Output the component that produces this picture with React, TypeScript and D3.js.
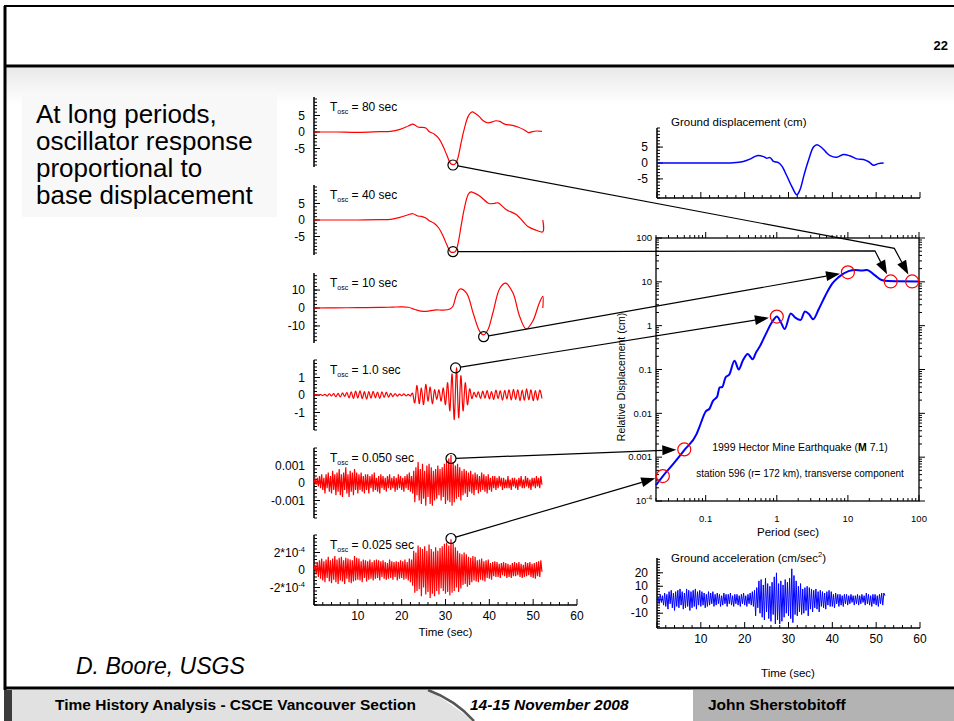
import React from "react";
import * as d3 from "d3";

const FONT = "'Liberation Sans', Arial, Helvetica, sans-serif";

// oscillator periods down the left column (sec)
const oscNames = ["80", "40", "10", "1.0", "0.050", "0.025"];

// long-period oscillator responses, [time (sec), displacement (cm)]
const osc80 = [
  [0, 0], [5, 0], [10, -0.1], [15, 0.1], [17.5, 0.2], [19.6, 0.8], [21.5, 1.8], [22.6, 2.4], [23.7, 1.5],
  [24.5, 1.4], [25.5, 1.2], [26.3, 0.1], [27.4, -0.6], [28.5, -2], [29.5, -4.5], [30.3, -7], [31.2, -9.6],
  [31.8, -9.9], [32.3, -9.6], [32.8, -8], [33.6, -3], [34.3, 1], [35.2, 4.8], [36.1, 6.1], [36.8, 5.6],
  [37.6, 4.8], [38.6, 3.4], [39.6, 2.8], [40.5, 3.0], [41.5, 3.4], [42.4, 3.2], [43.5, 2.4], [45.3, 2.0],
  [46.5, 1.5], [48, 0.6], [49, -0.2], [49.8, 0.1], [50.8, 0.3], [52, 0.2],
];
const osc40 = [
  [0, 0], [5, 0], [10, 0], [15, 0.1], [17.5, 0.2], [19.6, 0.8], [21.5, 1.6], [22.6, 1.9], [23.7, 1.2],
  [24.5, 1.1], [25.5, 0.6], [26.3, -0.2], [27.4, -1], [28.5, -2.5], [29.5, -5], [30.3, -7.5], [31.2, -9.7],
  [31.8, -9.8], [32.3, -9.5], [32.8, -7.5], [33.6, -1.5], [34.3, 3.5], [35.2, 7.8], [35.8, 8.5], [36.5, 8.2],
  [37.8, 7.3], [39.9, 5], [41, 5], [42, 5.2], [43.9, 3.1], [46.2, 1.6], [48.8, -2], [50.7, -3.1],
  [52.2, -3.6], [52.2, 0],
];
const osc10 = [
  [0, 0], [5, 0.1], [10, 0.2], [15, 0.3], [18, 0.5], [20, 0.6], [21.5, 0.4], [22.6, -0.5], [23.5, -1.2],
  [24.9, -1.9], [26.4, -1.6], [27.9, -1.0], [29.4, -1.2], [31, -0.6], [31.7, 1], [32.5, 7.4], [33.3, 10.6],
  [34.8, 8.3], [36.3, -2.8], [37.8, -13], [38.7, -15], [39.7, -12], [40.8, -2.8], [42.4, 11], [43.7, 13.9],
  [45.4, 8.3], [46.9, -4.6], [48.4, -11.7], [49.9, -7.4], [51.4, 2.8], [52.2, 6.5], [52.2, 0],
];

// short-period oscillator responses, one sample per step (sec)
const osc1Step = 0.5;
const osc1 = [
  0, 0.02, -0.02, 0.03, -0.03, 0.04, -0.06, 0.07, -0.05, 0.08, -0.1, 0.09, -0.11, 0.12, -0.08, 0.14,
  -0.16, 0.18, -0.2, 0.22, -0.17, 0.24, -0.2, 0.19, -0.23, 0.2, -0.18, 0.21, -0.16, 0.17, -0.2, 0.18,
  -0.14, 0.16, -0.12, 0.1, -0.09, 0.08, -0.06, 0.05, -0.04, 0.06, -0.05, 0.04, -0.06, 0.1, -0.45, 0.55,
  -0.5, 0.4, -0.55, 0.6, -0.35, 0.45, -0.5, 0.3, -0.25, 0.3, -0.35, 0.4, -0.55, 0.7, -0.9, 1.2,
  -1.4, 1.55, -1.3, 1.1, -0.9, 0.7, -0.55, 0.35, -0.2, 0.15, -0.12, 0.18, -0.2, 0.22, -0.18, 0.25,
  -0.22, 0.2, -0.25, 0.28, -0.2, 0.24, -0.3, 0.26, -0.22, 0.3, -0.28, 0.32, -0.25, 0.3, -0.33, 0.28,
  -0.3, 0.35, -0.27, 0.3, -0.32, 0.25, -0.3, 0.28, -0.2,
];
const fastStep = 0.25;
// T = 0.050 sec, in units of 1e-4 cm
const osc005 = [
  0, 2, -1, 3, -2, 4, -3, 5, -4, 3, -6, 5, -3, 6, -5, 4,
  -6, 7, -4, 5, -7, 6, -5, 8, -7, 5, -8, 6, -4, 9, -6, 5,
  -8, 7, -5, 6, -7, 8, -4, 6, -6, 5, -4, 6, -5, 4, -6, 5,
  -4, 5, -6, 4, -3, 5, -5, 6, -4, 3, -5, 4, -6, 5, -3, 4,
  -4, 3, -5, 4, -3, 5, -4, 3, -3, 4, -5, 3, -4, 5, -3, 4,
  -4, 3, -5, 4, -3, 5, -4, 6, -5, 4, -6, 7, -11, 9, -7, 12,
  -10, 8, -12, 11, -9, 7, -13, 10, -8, 11, -12, 9, -13, 7, -10, 8,
  -9, 10, -7, 8, -10, 9, -8, 11, -12, 13, -10, 14, -11, 16, -13, 12,
  -11, 10, -9, 11, -8, 9, -10, 7, -7, 8, -6, 7, -8, 6, -5, 7,
  -6, 5, -7, 6, -4, 5, -6, 4, -5, 6, -4, 5, -5, 4, -6, 5,
  -4, 3, -5, 4, -3, 4, -4, 3, -3, 4, -2, 3, -4, 3, -3, 2,
  -3, 4, -3, 2, -4, 3, -2, 3, -3, 2, -4, 3, -2, 4, -3, 2,
  -3, 4, -2, 3, -3, 2, -4, 3, -2, 3, -3, 4, -2, 3, -3, 4, -1,
].map((v) => v * 1e-4);
// T = 0.025 sec, in units of 1e-5 cm
const osc0025 = [
  0, 6, -5, 9, -8, 11, -10, 13, -12, 10, -14, 12, -9, 15, -13, 11,
  -15, 13, -11, 16, -14, 12, -16, 14, -12, 15, -13, 11, -16, 14, -10, 13,
  -14, 12, -15, 11, -13, 16, -12, 14, -11, 13, -12, 10, -14, 12, -9, 11,
  -13, 10, -11, 12, -10, 9, -12, 11, -10, 12, -9, 11, -12, 10, -8, 11,
  -10, 9, -11, 8, -10, 12, -9, 10, -11, 9, -8, 10, -12, 9, -10, 11,
  -9, 10, -11, 12, -10, 9, -12, 13, -14, 12, -18, 22, -26, 20, -24, 28,
  -22, 26, -30, 24, -20, 27, -28, 22, -25, 29, -32, 24, -27, 21, -30, 26,
  -24, 22, -28, 25, -21, 27, -24, 30, -27, 31, -25, 28, -29, 35, -26, 30,
  -24, 26, -20, 22, -25, 19, -21, 18, -17, 20, -16, 18, -19, 15, -17, 14,
  -14, 16, -12, 15, -13, 11, -14, 12, -11, 13, -12, 10, -13, 11, -9, 12,
  -10, 8, -11, 9, -7, 10, -8, 9, -8, 7, -9, 8, -6, 9, -7, 8,
  -9, 7, -8, 6, -9, 8, -7, 9, -7, 8, -6, 9, -8, 7, -9, 6,
  -8, 9, -7, 8, -6, 9, -8, 7, -9, 8, -10, 9, -7, 10, -8, 11, -2,
].map((v) => v * 1e-5);

// ground motion
const groundDisp = [
  [0, 0], [10, 0], [17.4, 0.1], [19.7, 0.5], [21.2, 1.2], [22.8, 2.3], [24.3, 2.0], [25, 1.5], [25.8, 1.7],
  [26.6, 0.5], [27.7, 0.1], [28.5, -1], [29.6, -4], [30.8, -7.5], [31.9, -10], [32.6, -8.5], [33.6, -3.5],
  [34.6, 1], [35.7, 5], [36.5, 5.7], [37.6, 4.8], [38.5, 3.5], [39.5, 2.3], [41, 1.8], [42.5, 2.7],
  [44.1, 2.2], [45.6, 1.3], [47.1, 1.1], [48.3, 0.4], [49.4, -0.7], [50.5, -0.2], [51.7, 0],
];
const groundAcc = [
  0, 2, -3, 4, -2, 3, -4, 5, -5, 4, -7, 6, -3, 7, -6, 5,
  -8, 6, -5, 7, -6, 8, -4, 6, -7, 5, -6, 8, -5, 7, -8, 6,
  -6, 7, -5, 8, -7, 6, -4, 7, -5, 6, -4, 5, -6, 4, -5, 6,
  -4, 5, -3, 6, -5, 4, -4, 5, -3, 4, -5, 3, -4, 5, -3, 4,
  -5, 4, -3, 5, -4, 3, -5, 4, -3, 4, -4, 3, -5, 4, -3, 5,
  -4, 3, -5, 4, -3, 5, -4, 6, -5, 7, -12, 9, -6, 14, -10, 15,
  -13, 11, -15, 16, -9, 12, -14, 10, -16, 13, -11, 17, -18, 20, -15, 12,
  -18, 14, -16, 11, -13, 15, -10, 13, -12, 16, -14, 23, -17, 18, -11, 14,
  -12, 10, -9, 12, -11, 8, -10, 9, -8, 10, -12, 9, -7, 8, -9, 7,
  -6, 8, -7, 6, -9, 7, -5, 6, -6, 5, -7, 6, -4, 7, -5, 6,
  -5, 4, -6, 5, -3, 4, -5, 4, -4, 3, -5, 4, -3, 4, -4, 3,
  -3, 4, -2, 3, -4, 3, -3, 4, -4, 3, -3, 4, -2, 3, -4, 5,
  -3, 4, -4, 3, -5, 4, -3, 4, -4, 3, -5, 4, -3, 5, -4, 5, 3,
];

// displacement response spectrum
const specPeriod = [
  0.02, 0.025, 0.035, 0.051, 0.074, 0.082, 0.1, 0.114, 0.126, 0.138, 0.145, 0.157, 0.171, 0.19, 0.216,
  0.254, 0.292, 0.332, 0.39, 0.458, 0.51, 0.567, 0.7, 0.825, 0.918, 1.0, 1.14, 1.29, 1.57, 1.84, 2.16,
  2.49, 2.83, 3.25, 3.9, 4.83, 5.98, 7.4, 10.2, 12.6, 15.7, 18.5, 24.1, 29.8, 36.9, 50.8, 100,
];
const specDisp = [
  2.3e-4, 3.7e-4, 7e-4, 1.5e-3, 3.3e-3, 5e-3, 0.011, 0.013, 0.019, 0.022, 0.024, 0.039, 0.04, 0.066, 0.078,
  0.158, 0.1, 0.158, 0.225, 0.172, 0.245, 0.32, 0.64, 1.09, 1.42, 1.61, 1.2, 0.84, 1.9, 1.5, 1.35,
  2.1, 1.85, 1.4, 2.4, 4.9, 9, 12.8, 17.5, 18.7, 18.2, 18.7, 14, 11, 10.4, 10.3, 10.2,
];

// circled peaks on each trace and the spectrum point they map to
const peakTime = [31.7, 31.7, 38.7, 32.3, 31.25, 31.25];
const peakValue = [-10, -9.6, -16, 1.55, 0.0014, 0.00036];
const peakPeriod = [80, 40, 10, 1, 0.05, 0.025];
const peakDisp = [10.2, 10.2, 16.5, 1.61, 1.5e-3, 3.7e-4];
const bendPeriod = [45, 24, null, null, null, null];
const bendDisp = [58, 51, null, null, null, null];

// axis ticks
const timeTicks = [10, 20, 30, 40, 50, 60];
const panelMax = [10.6, 10.6, 19.5, 2, 0.002, 4e-4];
const panelTicks = [[5, 0, -5], [5, 0, -5], [10, 0, -10], [1, 0, -1], [0.001, 0, -0.001], [2e-4, 0, -2e-4]];
const panelTickText = [["5", "0", "-5"], ["5", "0", "-5"], ["10", "0", "-10"], ["1", "0", "-1"], ["0.001", "0", "-0.001"], ["2*10", "0", "-2*10"]];
const dispTicks = [5, 0, -5];
const accTicks = [20, 10, 0, -10];
const specYTicks = [100, 10, 1, 0.1, 0.01, 0.001, 1e-4];
const specYText = ["100", "10", "1", "0.1", "0.01", "0.001", "10"];
const specXTicks = [0.1, 1, 10, 100];
const specXText = ["0.1", "1", "10", "100"];

const textLines = ["At long periods,", "oscillator response", "proportional to", "base displacement"];

function stepTicks(lo: number, hi: number, step: number) {
  const out: number[] = [];
  for (let k = Math.ceil(lo / step - 1e-9); k <= Math.floor(hi / step + 1e-9); k++) out.push(k * step);
  return out;
}

function logTicks(lo: number, hi: number) {
  const out: { v: number; major: boolean }[] = [];
  for (let e = Math.floor(Math.log10(lo)); e <= Math.ceil(Math.log10(hi)); e++) {
    for (let m = 1; m <= 9; m++) {
      const v = m * Math.pow(10, e);
      if (v >= lo * 0.999 && v <= hi * 1.001) out.push({ v, major: m === 1 });
    }
  }
  return out;
}

const sampled = (vals: number[], dt: number) => vals.map((v, i) => [i * dt, v]);

export default function App() {
  const W = 954, H = 721;
  const xT = d3.scaleLinear().domain([0, 60]).range([314, 577]);
  const xG = d3.scaleLinear().domain([0, 60]).range([657, 920]);
  const panelTop = [97, 185, 273, 360, 448, 535];
  const panelH = 70;
  const yPanel = panelMax.map((m, i) => d3.scaleLinear().domain([-m, m]).range([panelTop[i] + panelH, panelTop[i]]));
  const yDisp = d3.scaleLinear().domain([-11, 11]).range([198, 128]);
  const yAcc = d3.scaleLinear().domain([-21, 31]).range([628, 558]);
  const xP = d3.scaleLog().domain([0.02, 100]).range([656, 919]);
  const yP = d3.scaleLog().domain([1e-4, 100]).range([501, 238]);

  const traces = [osc80, osc40, osc10, sampled(osc1, osc1Step), sampled(osc005, fastStep), sampled(osc0025, fastStep)];
  const curves: any[] = [d3.curveCatmullRom, d3.curveCatmullRom, d3.curveCatmullRom, d3.curveCardinal, d3.curveLinear, d3.curveLinear];

  const dispLine = d3.line<any>().x((d) => xG(d[0])).y((d) => yDisp(d[1])).curve(d3.curveCatmullRom);
  const accLine = d3.line<any>().x((d) => xG(d[0])).y((d) => yAcc(d[1]));
  const specLine = d3.line<number>().x((_, i) => xP(specPeriod[i])).y((d) => yP(d)).curve(d3.curveMonotoneX);

  const trim = (a: number[], b: number[], d: number) => {
    const dx = b[0] - a[0], dy = b[1] - a[1], L = Math.hypot(dx, dy);
    return [a[0] + (dx / L) * d, a[1] + (dy / L) * d];
  };
  const arrows = peakPeriod.map((p, i) => {
    const pts: number[][] = [[xT(peakTime[i]), yPanel[i](peakValue[i])]];
    if (bendPeriod[i] != null) pts.push([xP(bendPeriod[i] as number), yP(bendDisp[i] as number)]);
    pts.push([xP(p), yP(peakDisp[i])]);
    pts[0] = trim(pts[0], pts[1], 5);
    const n = pts.length;
    const end = trim(pts[n - 1], pts[n - 2], 8);
    const prev = pts[n - 2];
    const ang = Math.atan2(end[1] - prev[1], end[0] - prev[0]);
    const L = 14, w = 5;
    const base = [end[0] - Math.cos(ang) * L, end[1] - Math.sin(ang) * L];
    const head = [end, [base[0] + Math.sin(ang) * w, base[1] - Math.cos(ang) * w], [base[0] - Math.sin(ang) * w, base[1] + Math.cos(ang) * w]];
    return { line: [...pts.slice(0, n - 1), base], head };
  });

  const timeMinor = stepTicks(0, 60, 2);
  const xLogTicks = logTicks(0.02, 100);
  const yLogTicks = logTicks(1e-4, 100);

  return (
    <svg width={W} height={H} style={{ position: "absolute", left: 0, top: 0, background: "#fff" }} fontFamily={FONT}>
      <defs>
        <linearGradient id="band" x1="0" y1="0" x2="0" y2="1">
          <stop offset="0" stopColor="#e9e9e9" />
          <stop offset="1" stopColor="#ffffff" />
        </linearGradient>
      </defs>

      {/* slide frame */}
      <rect x={6} y={68} width={948} height={36} fill="url(#band)" />
      <rect x={22} y={92} width={255} height={125} fill="#f8f8f8" />
      <line x1={4} y1={6} x2={954} y2={6} stroke="#000" strokeWidth={2} />
      <line x1={5} y1={6} x2={5} y2={690} stroke="#000" strokeWidth={3} />
      <line x1={4} y1={66} x2={954} y2={66} stroke="#000" strokeWidth={3} />
      <text x={948} y={50} textAnchor="end" fontSize={13} fontWeight="bold">22</text>

      {textLines.map((t, i) => (
        <text key={t} x={36} y={123 + i * 27} fontSize={26}>{t}</text>
      ))}
      <text x={76} y={674} fontSize={23} fontStyle="italic">D. Boore, USGS</text>

      {/* oscillator traces */}
      {traces.map((tr, i) => {
        const y = yPanel[i];
        const m = panelMax[i];
        const minor = stepTicks(-m, m, panelTicks[i][0] / 5);
        const line = d3.line<any>().x((d) => xT(d[0])).y((d) => y(d[1])).curve(curves[i]);
        return (
          <g key={i}>
            <line x1={314} y1={panelTop[i]} x2={314} y2={panelTop[i] + panelH} stroke="#000" strokeWidth={1.5} />
            {minor.map((v) => (
              <line key={v} x1={314} y1={y(v)} x2={317} y2={y(v)} stroke="#000" strokeWidth={1} />
            ))}
            {panelTicks[i].map((v, j) => (
              <g key={j}>
                <line x1={314} y1={y(v)} x2={320} y2={y(v)} stroke="#000" strokeWidth={1} />
                <text x={305} y={y(v)} dy="0.35em" textAnchor="end" fontSize={12}>
                  {panelTickText[i][j]}
                  {i === 5 && v !== 0 ? <tspan fontSize={7.5} dy={-5}>-4</tspan> : null}
                </text>
              </g>
            ))}
            <path d={line(tr as any) || ""} fill="none" stroke="#ff0000" strokeWidth={1.2} />
            <text x={330} y={panelTop[i] + 14} fontSize={12}>
              T<tspan fontSize={7} dy={3}>osc</tspan>
              <tspan dy={-3}>{` = ${oscNames[i]} sec`}</tspan>
            </text>
            <circle cx={xT(peakTime[i])} cy={y(peakValue[i])} r={5} fill="none" stroke="#000" strokeWidth={1.2} />
          </g>
        );
      })}
      {/* time axis under the traces */}
      <line x1={314} y1={605} x2={577} y2={605} stroke="#000" strokeWidth={1.5} />
      {timeMinor.map((t) => (
        <line key={t} x1={xT(t)} y1={605} x2={xT(t)} y2={t % 10 === 0 ? 599 : 602} stroke="#000" strokeWidth={1} />
      ))}
      {timeTicks.map((t) => (
        <text key={t} x={xT(t)} y={620} textAnchor="middle" fontSize={12}>{t}</text>
      ))}
      <text x={xT(30)} y={636} textAnchor="middle" fontSize={11.5}>Time (sec)</text>

      {/* ground displacement */}
      <text x={671} y={126} fontSize={11.5}>Ground displacement (cm)</text>
      <line x1={657} y1={128} x2={657} y2={198} stroke="#000" strokeWidth={1.5} />
      {stepTicks(-11, 11, 1).map((v) => (
        <line key={v} x1={657} y1={yDisp(v)} x2={660} y2={yDisp(v)} stroke="#000" />
      ))}
      {dispTicks.map((v) => (
        <g key={v}>
          <line x1={657} y1={yDisp(v)} x2={663} y2={yDisp(v)} stroke="#000" />
          <text x={648} y={yDisp(v)} dy="0.35em" textAnchor="end" fontSize={12}>{v}</text>
        </g>
      ))}
      <line x1={657} y1={198} x2={920} y2={198} stroke="#000" strokeWidth={1.5} />
      {timeMinor.map((t) => (
        <line key={t} x1={xG(t)} y1={198} x2={xG(t)} y2={t % 10 === 0 ? 192 : 195} stroke="#000" />
      ))}
      <path d={dispLine(groundDisp as any) || ""} fill="none" stroke="#0000ff" strokeWidth={1.5} />

      {/* ground acceleration */}
      <text x={671} y={562} fontSize={11.5}>
        Ground acceleration (cm/sec<tspan fontSize={7.5} dy={-5}>2</tspan><tspan dy={5}>)</tspan>
      </text>
      <line x1={657} y1={558} x2={657} y2={628} stroke="#000" strokeWidth={1.5} />
      {stepTicks(-21, 31, 2).map((v) => (
        <line key={v} x1={657} y1={yAcc(v)} x2={660} y2={yAcc(v)} stroke="#000" />
      ))}
      {accTicks.map((v) => (
        <g key={v}>
          <line x1={657} y1={yAcc(v)} x2={663} y2={yAcc(v)} stroke="#000" />
          <text x={648} y={yAcc(v)} dy="0.35em" textAnchor="end" fontSize={12}>{v}</text>
        </g>
      ))}
      <line x1={657} y1={628} x2={920} y2={628} stroke="#000" strokeWidth={1.5} />
      {timeMinor.map((t) => (
        <line key={t} x1={xG(t)} y1={628} x2={xG(t)} y2={t % 10 === 0 ? 622 : 625} stroke="#000" />
      ))}
      {timeTicks.map((t) => (
        <text key={t} x={xG(t)} y={643} textAnchor="middle" fontSize={12}>{t}</text>
      ))}
      <path d={accLine(sampled(groundAcc, fastStep) as any) || ""} fill="none" stroke="#0000ff" strokeWidth={1} />
      <text x={788} y={677} textAnchor="middle" fontSize={11.5}>Time (sec)</text>

      {/* response spectrum */}
      <rect x={656} y={238} width={263} height={263} fill="none" stroke="#000" strokeWidth={1.3} />
      {xLogTicks.map((t) => (
        <g key={"x" + t.v}>
          <line x1={xP(t.v)} y1={501} x2={xP(t.v)} y2={501 - (t.major ? 6 : 3)} stroke="#000" />
          <line x1={xP(t.v)} y1={238} x2={xP(t.v)} y2={238 - (t.major ? 6 : 3)} stroke="#000" />
        </g>
      ))}
      {yLogTicks.map((t) => (
        <g key={"y" + t.v}>
          <line x1={656} y1={yP(t.v)} x2={656 + (t.major ? 6 : 3)} y2={yP(t.v)} stroke="#000" />
          <line x1={919} y1={yP(t.v)} x2={919 + (t.major ? 6 : 3)} y2={yP(t.v)} stroke="#000" />
        </g>
      ))}
      {specYTicks.map((v, i) => (
        <text key={v} x={652} y={yP(v)} dy="0.35em" textAnchor="end" fontSize={9.5}>
          {specYText[i]}
          {v === 1e-4 ? <tspan fontSize={6.5} dy={-4}>-4</tspan> : null}
        </text>
      ))}
      {specXTicks.map((v, i) => (
        <text key={v} x={xP(v)} y={522} textAnchor="middle" fontSize={9.5}>{specXText[i]}</text>
      ))}
      <text x={788} y={536} textAnchor="middle" fontSize={11.5}>Period (sec)</text>
      <text transform="translate(625,377) rotate(-90)" textAnchor="middle" fontSize={10.5}>Relative Displacement  (cm)</text>
      <text x={800} y={451} textAnchor="middle" fontSize={10.5}>
        1999 Hector Mine Earthquake (<tspan fontWeight="bold">M</tspan> 7.1)
      </text>
      <text x={800} y={477} textAnchor="middle" fontSize={10}>station 596 (r= 172 km), transverse component</text>
      <path d={specLine(specDisp) || ""} fill="none" stroke="#0000ff" strokeWidth={2} />
      {peakPeriod.map((p, i) => (
        <circle key={p} cx={xP(p)} cy={yP(peakDisp[i])} r={6.5} fill="none" stroke="#ff0000" strokeWidth={1.2} />
      ))}

      {/* arrows from trace peaks to spectrum */}
      {arrows.map((a, i) => (
        <g key={i}>
          <polyline points={a.line.map((p) => p.join(",")).join(" ")} fill="none" stroke="#000" strokeWidth={1.2} />
          <polygon points={a.head.map((p) => p.join(",")).join(" ")} fill="#000" />
        </g>
      ))}

      {/* footer */}
      <line x1={4} y1={688} x2={954} y2={688} stroke="#000" strokeWidth={3} />
      <rect x={4} y={690} width={8} height={31} fill="#3c3c3c" />
      <polygon points="12,690 430,690 474,721 12,721" fill="#e1e1e1" />
      <path d="M428,690 Q455,700 474,721" fill="none" stroke="#555" strokeWidth={2.5} />
      <rect x={693} y={690} width={261} height={31} fill="#b3b3b3" />
      <text x={55} y={710} fontSize={15.5} fontWeight="bold">Time History Analysis - CSCE Vancouver Section</text>
      <text x={470} y={710} fontSize={15.5} fontWeight="bold" fontStyle="italic">14-15 November 2008</text>
      <text x={708} y={710} fontSize={15.5} fontWeight="bold">John Sherstobitoff</text>
    </svg>
  );
}
